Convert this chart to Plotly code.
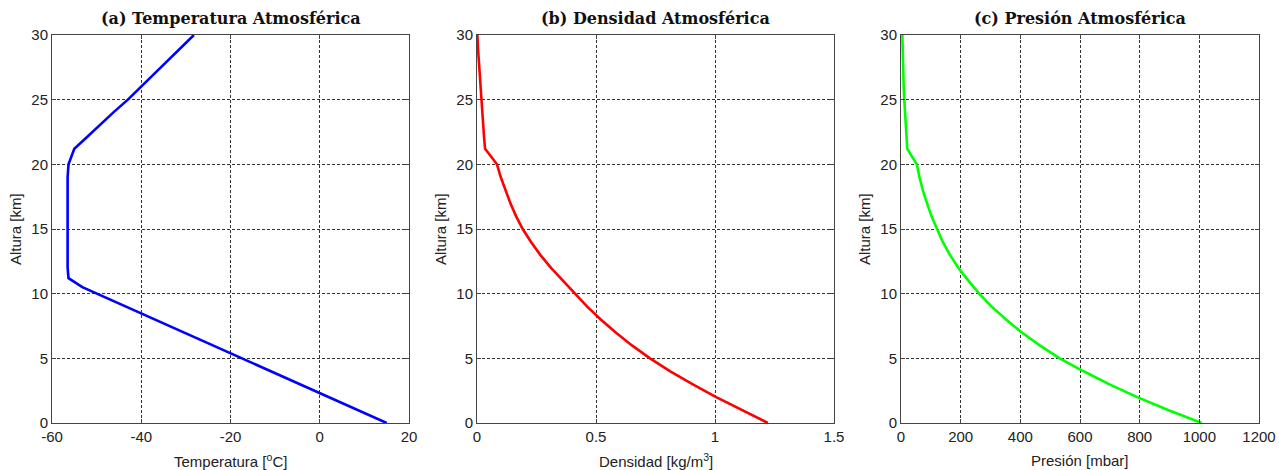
import plotly.graph_objects as go

# Altitude [km]
altura = [0, 1, 2, 3, 4, 5, 6, 7, 8, 9, 10, 10.5, 11.2, 12, 13, 14, 15, 16, 17, 18, 19, 20,
          21.2, 22, 23, 24, 25, 26, 27, 28, 29, 30]
# Temperature [°C]
temperatura = [15.0, 8.5, 2.0, -4.5, -11.0, -17.5, -24.0, -30.5, -37.0, -43.5, -50.0,
               -53.2, -56.3, -56.5, -56.5, -56.5, -56.5, -56.5, -56.5, -56.5, -56.5, -56.3,
               -55.0, -52.5, -49.5, -46.3, -43.0, -40.0, -37.0, -34.0, -31.0, -28.2]
# Density [kg/m^3]
densidad = [1.222, 1.110, 1.005, 0.905, 0.812, 0.727, 0.651, 0.583, 0.520, 0.463, 0.412,
            0.388, 0.355, 0.311, 0.266, 0.227, 0.192, 0.164, 0.140, 0.119, 0.100, 0.084,
            0.034, 0.030, 0.026, 0.022, 0.017, 0.013, 0.0095, 0.0065, 0.004, 0.0015]
# Pressure [mbar]
presion = [1008, 895, 792, 697, 612, 532, 465, 405, 352, 304, 262,
           243, 219, 192, 164, 140, 120, 102, 87, 73, 62, 53,
           21, 18.5, 16, 13.5, 11, 9, 7.5, 6, 5, 4.5]

titulos = ["(a) Temperatura Atmosférica", "(b) Densidad Atmosférica", "(c) Presión Atmosférica"]
xlabels = ["Temperatura [<sup>o</sup>C]", "Densidad [kg/m<sup>3</sup>]", "Presión [mbar]"]
ylabel = "Altura [km]"
xranges = [[-60, 20], [0, 1.5], [0, 1200]]
xticks = [[-60, -40, -20, 0, 20], [0, 0.5, 1, 1.5], [0, 200, 400, 600, 800, 1000, 1200]]
xticklabels = [["-60", "-40", "-20", "0", "20"], ["0", "0.5", "1", "1.5"],
               ["0", "200", "400", "600", "800", "1000", "1200"]]
yticks = [0, 5, 10, 15, 20, 25, 30]
yticklabels = ["0", "5", "10", "15", "20", "25", "30"]
colores = ["#0000FF", "#FF0000", "#00FF00"]
series = [temperatura, densidad, presion]

W, H = 1279, 470
left_px = [52, 477, 901]
right_px = [409, 834, 1259]
top_px, bot_px = 35, 423

fig = go.Figure()
font_ticks = dict(family="Liberation Sans, Arial, sans-serif", size=15, color="#222")
ydom = [(H - bot_px) / H, (H - top_px) / H]

for i in range(3):
    xa = "x" if i == 0 else f"x{i+1}"
    ya = "y" if i == 0 else f"y{i+1}"
    fig.add_trace(go.Scatter(x=series[i], y=altura, mode="lines",
                             line=dict(color=colores[i], width=2.6),
                             xaxis=xa, yaxis=ya, showlegend=False))
    axcommon = dict(showline=True, linecolor="#444", linewidth=1, mirror="ticks",
                    ticks="inside", ticklen=4, tickcolor="#444",
                    showgrid=True, gridcolor="#333", gridwidth=1, griddash="3px,2px",
                    zeroline=False, tickfont=font_ticks, automargin=False)
    xdom = [left_px[i] / W, right_px[i] / W]
    key = "" if i == 0 else str(i + 1)
    fig.update_layout(**{
        f"xaxis{key}": dict(domain=xdom, range=xranges[i], tickvals=xticks[i],
                            ticktext=xticklabels[i], anchor=ya, **axcommon),
        f"yaxis{key}": dict(domain=ydom, range=[0, 30], tickvals=yticks,
                            ticktext=yticklabels, anchor=xa, **axcommon),
    })
    cx = (left_px[i] + right_px[i]) / 2 / W
    fig.add_annotation(text=f"<b>{titulos[i]}</b>", x=cx, y=(H - 18) / H,
                       xref="paper", yref="paper", xanchor="center", yanchor="middle",
                       showarrow=False,
                       font=dict(family="DejaVu Serif, serif", size=16, color="#111"))
    fig.add_annotation(text=xlabels[i], x=cx, y=(H - 460) / H,
                       xref="paper", yref="paper", xanchor="center", yanchor="middle",
                       showarrow=False,
                       font=dict(family="Liberation Sans, Arial, sans-serif", size=15, color="#222"))
    fig.add_annotation(text=ylabel, x=(left_px[i] - 37) / W, y=(H - 229) / H,
                       xref="paper", yref="paper", xanchor="center", yanchor="middle",
                       textangle=-90, showarrow=False,
                       font=dict(family="Liberation Sans, Arial, sans-serif", size=15, color="#222"))

fig.update_layout(width=W, height=H, margin=dict(l=0, r=0, t=0, b=0),
                  paper_bgcolor="white", plot_bgcolor="white")

fig.write_html("out.html")
